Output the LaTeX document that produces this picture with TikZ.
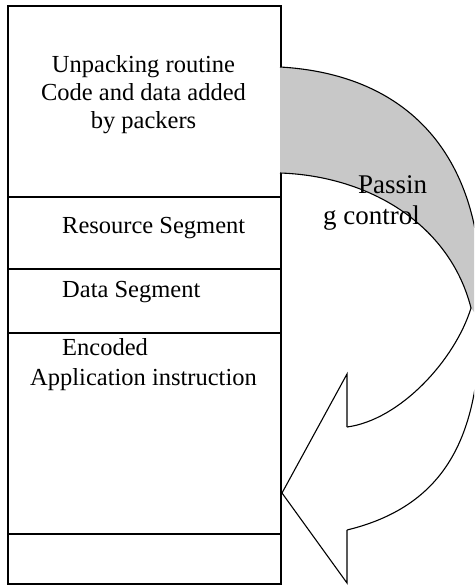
\documentclass[tikz,border=0pt]{standalone}
\usepackage{fontspec}
\setmainfont{Liberation Serif}
\definecolor{bandgray}{RGB}{200,200,200}
\begin{document}
\begin{tikzpicture}[x=1pt,y=-1pt,
  seg/.style={draw=black,line width=1.6pt,anchor=north west,minimum width=273pt,inner sep=0pt},
  lbl/.style={font=\fontsize{24.5}{28}\selectfont,inner sep=0pt},
  arrowline/.style={draw=black,line width=1.1pt,line join=miter},
  arrowlbl/.style={font=\fontsize{27}{31}\selectfont,inner sep=0pt,anchor=base west}]
\useasboundingbox (0,0) rectangle (474,586);
\clip (0,0) rectangle (474,586);
\fill[white] (0,0) rectangle (474,586);

% memory layout of the packed file
\node[seg,minimum height=191pt] (unpack) at (7,5) {};
\node[seg,minimum height=72pt]  (rsrc)   at (7,196) {};
\node[seg,minimum height=64pt]  (data)   at (7,268) {};
\node[seg,minimum height=201pt] (code)   at (7,332) {};
\node[seg,minimum height=50pt]  (tail)   at (7,533) {};

\node[lbl,anchor=base] (u1) at (143.5,72)  {Unpacking routine};
\node[lbl,anchor=base] (u2) at (143.5,100) {Code and data added};
\node[lbl,anchor=base] (u3) at (143.5,128) {by packers};
\node[lbl,anchor=base west] (r1) at (62,233) {Resource Segment};
\node[lbl,anchor=base west] (d1) at (62,297) {Data Segment};
\node[lbl,anchor=base west] (c1) at (62,355) {Encoded};
\node[lbl,anchor=base west] (c2) at (30,385) {Application instruction};

% curved arrow: shaded back face
\coordinate (o1) at (280,67);
\coordinate (o2) at (480,320);
\coordinate (o3) at (347,530);
\coordinate (i1) at (280,173);
\coordinate (tw) at (471,308);
\coordinate (i3) at (347,427);
\coordinate (b1) at (347,374);
\coordinate (tip) at (282,493);
\coordinate (b2) at (347,583);

\fill[bandgray] (o1) .. controls (420,75) and (490,170) .. (o2) -- (tw)
  .. controls (450,225) and (370,176) .. (i1) -- cycle;

% outlines of the arrow
\draw[arrowline] (o1) .. controls (420,75) and (490,170) .. (o2)
  .. controls (480,430) and (450,505) .. (o3);
\draw[arrowline] (i1) .. controls (370,176) and (450,225) .. (tw)
  .. controls (455,360) and (400,420) .. (i3);
\draw[arrowline] (i3) -- (b1) -- (tip) -- (b2) -- (o3);

\node[arrowlbl] (p1) at (358,193) {Passin};
\node[arrowlbl] (p2) at (323,224) {g control};
\end{tikzpicture}
\end{document}
